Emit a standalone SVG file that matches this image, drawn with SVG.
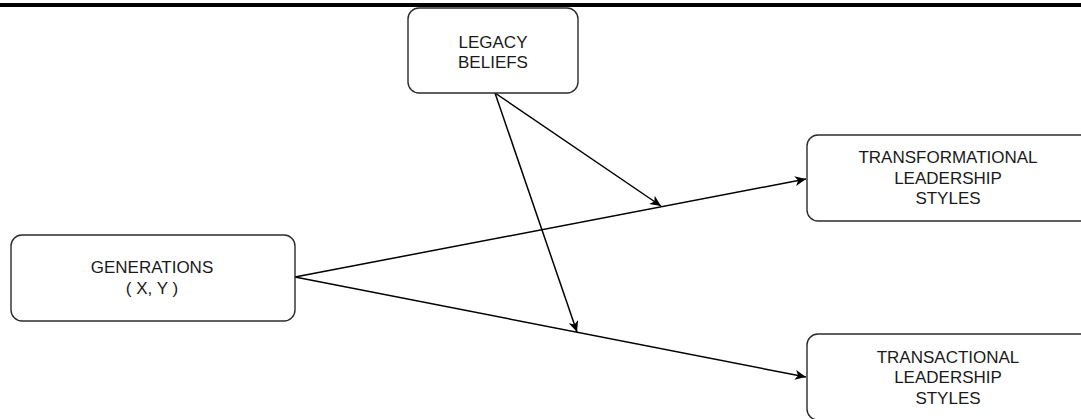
<svg xmlns="http://www.w3.org/2000/svg" width="1081" height="419" viewBox="0 0 1081 419">
<style>
.box{fill:#fff;stroke:#2b2b2b;stroke-width:1.4}
.lbl{font-family:"Liberation Sans",Arial,sans-serif;font-size:17px;fill:#1a1a1a;text-anchor:middle}
.edge{stroke:#000;stroke-width:1.5;fill:none;marker-end:url(#arr)}
</style>
<defs>
<marker id="arr" markerUnits="userSpaceOnUse" markerWidth="12" markerHeight="10" refX="11" refY="5" orient="auto">
<path d="M0,0 L11,5 L0,10 L3,5 z" fill="#000"/>
</marker>
</defs>
<rect x="0" y="3" width="1081" height="4" fill="#000"/>
<g id="connectors">
<line class="edge" x1="295" y1="277" x2="806" y2="179"/>
<line class="edge" x1="295" y1="277" x2="806" y2="377"/>
<line class="edge" x1="495" y1="93" x2="661" y2="206"/>
<line class="edge" x1="495" y1="93" x2="577" y2="332"/>
</g>
<g id="legacy">
<rect class="box" x="408" y="8" width="170" height="85" rx="11"/>
<text class="lbl" x="493" y="48">LEGACY</text>
<text class="lbl" x="493" y="68">BELIEFS</text>
</g>
<g id="generations">
<rect class="box" x="11" y="235" width="284" height="86" rx="11"/>
<text class="lbl" x="152" y="273">GENERATIONS</text>
<text class="lbl" x="152" y="294">( X, Y )</text>
</g>
<g id="transformational">
<rect class="box" x="807" y="135" width="284" height="86" rx="11"/>
<text class="lbl" x="948" y="163">TRANSFORMATIONAL</text>
<text class="lbl" x="948" y="184">LEADERSHIP</text>
<text class="lbl" x="948" y="204">STYLES</text>
</g>
<g id="transactional">
<rect class="box" x="807" y="334" width="284" height="86" rx="11"/>
<text class="lbl" x="948" y="363">TRANSACTIONAL</text>
<text class="lbl" x="948" y="383">LEADERSHIP</text>
<text class="lbl" x="948" y="404">STYLES</text>
</g>
</svg>
